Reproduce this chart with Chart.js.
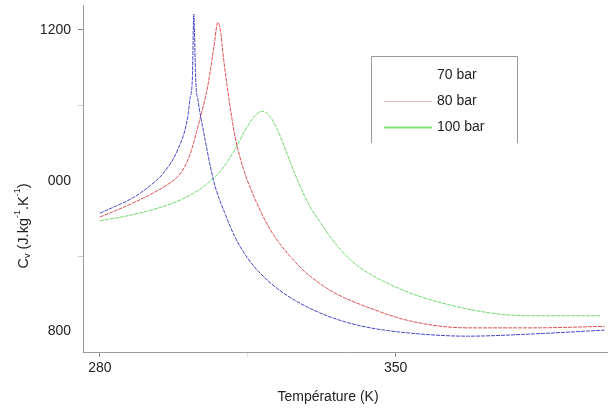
<!DOCTYPE html>
<html>
<head>
<meta charset="utf-8">
<script src="https://cdn.jsdelivr.net/npm/chart.js@4"></script>
<style>
  html, body { margin: 0; padding: 0; background: #fff; }
  #wrap { width: 611px; height: 411px; }
</style>
</head>
<body>
<div id="wrap"><canvas id="cvChart" width="611" height="411"></canvas></div>
<script>
// Cv en fonction de la température, 3 pressions
var seriesLabels = ['70 bar', '80 bar', '100 bar'];

var temp70 = [280, 284, 288, 292, 295, 298.4, 300.8, 301.3, 301.9, 302.2, 302.7, 303.2, 304.6, 307, 309.5, 312, 315, 318, 322, 326, 332, 338, 344, 353.5, 367, 382.6, 399.4];
var cv70   = [957, 967, 978, 994, 1010, 1041, 1085, 1108, 1138, 1221, 1130, 1107, 1063, 998, 958, 925, 897, 877, 857, 842, 825, 813, 805, 798, 794, 797, 802];

var temp80 = [280, 284, 288, 292, 296, 298.5, 300.3, 301.5, 303.5, 305.5, 307, 307.9, 308.5, 309.3, 310.5, 312, 314, 316, 318, 320, 322.5, 325, 328, 332, 336, 344, 353.5, 367, 382.6, 399.4];
var cv80   = [952, 961, 971, 982, 995, 1006, 1021, 1038, 1078, 1125, 1178, 1210, 1200, 1160, 1110, 1058, 1015, 985, 960, 938, 917, 900, 882, 864, 850, 831, 814, 805, 805, 807];

var temp100 = [280, 286, 292, 298, 302, 306, 309, 312, 315, 317, 318.5, 320, 322, 324, 326, 328, 330, 332, 335, 338, 341, 344, 347, 353.5, 359, 367, 375, 383, 398.4];
var cv100   = [947, 953, 961, 972, 983, 999, 1016, 1042, 1073, 1088, 1092, 1087, 1068, 1040, 1011, 985, 963, 946, 922, 902, 887, 876, 867, 851, 841, 830, 823, 821, 821];

var xTicks = [280, 315, 350];
var xTickLabels = ['280', '', '350'];
var yTicks = [800, 900, 1000, 1100, 1200];
var yTickLabels = ['800', '', '000', '', '1200'];

var lineColors = ['rgb(70,70,200)', 'rgb(222,80,80)', 'rgb(110,215,110)'];
var legendColors = ['rgba(255,255,255,0)', 'rgb(245,185,185)', 'rgb(120,225,120)'];

function toPoints(xs, ys) {
  return xs.map(function (x, i) { return { x: x, y: ys[i] }; });
}

var font = '"Liberation Sans", Arial, sans-serif';

// légende encadrée + titres des axes
var decorPlugin = {
  id: 'decor',
  afterDraw: function (chart) {
    var c = chart.ctx;
    c.save();
    // cadre de légende (ouvert en bas)
    c.strokeStyle = '#9a9a9a';
    c.lineWidth = 1;
    c.beginPath();
    c.moveTo(371.5, 143);
    c.lineTo(371.5, 56.5);
    c.lineTo(517.5, 56.5);
    c.lineTo(517.5, 143);
    c.stroke();
    c.font = '14px ' + font;
    c.textBaseline = 'middle';
    c.fillStyle = '#222';
    var rowY = [75, 101, 127];
    chart.data.datasets.forEach(function (ds, i) {
      c.strokeStyle = legendColors[i];
      c.lineWidth = i === 2 ? 2 : 1;
      c.beginPath();
      c.moveTo(384, rowY[i] + 0.5);
      c.lineTo(432, rowY[i] + 0.5);
      c.stroke();
      c.fillText(ds.label, 437, rowY[i]);
    });

    // titre axe X
    c.textAlign = 'center';
    c.fillText('Température (K)', 328, 397);

    // titre axe Y, avec indices / exposants
    c.translate(24, 226);
    c.rotate(-Math.PI / 2);
    var parts = [
      ['C', 0, 14.5], ['v', 4, 9], [' (J.kg', 0, 14.5], ['-1', -6, 9],
      ['.K', 0, 14.5], ['-1', -6, 9], [')', 0, 14.5]
    ];
    var total = 0;
    parts.forEach(function (p) { c.font = p[2] + 'px ' + font; total += c.measureText(p[0]).width; });
    var px = -total / 2;
    c.textAlign = 'left';
    parts.forEach(function (p) {
      c.font = p[2] + 'px ' + font;
      c.fillText(p[0], px, p[1]);
      px += c.measureText(p[0]).width;
    });
    c.restore();
  }
};

var ctx = document.getElementById('cvChart').getContext('2d');

var cvChart = new Chart(ctx, {
  type: 'line',
  data: {
    datasets: [
      { label: seriesLabels[0], data: toPoints(temp70, cv70) },
      { label: seriesLabels[1], data: toPoints(temp80, cv80) },
      { label: seriesLabels[2], data: toPoints(temp100, cv100) }
    ].map(function (ds, i) {
      ds.borderColor = lineColors[i];
      ds.backgroundColor = lineColors[i];
      ds.borderWidth = 1;
      ds.borderDash = [4, 1];
      ds.pointRadius = 0;
      ds.fill = false;
      ds.cubicInterpolationMode = 'monotone';
      return ds;
    })
  },
  options: {
    responsive: false,
    animation: false,
    layout: { padding: { top: 5, right: 4, left: 0, bottom: 0 } },
    plugins: {
      legend: { display: false },
      tooltip: { enabled: false }
    },
    scales: {
      x: {
        type: 'linear',
        min: 276,
        max: 400,
        afterBuildTicks: function (scale) {
          scale.ticks = xTicks.map(function (v) { return { value: v }; });
        },
        afterFit: function (scale) {
          scale.height = 59;
          scale.paddingLeft = 0;
          scale.paddingRight = 0;
        },
        ticks: {
          autoSkip: false,
          maxRotation: 0,
          padding: 3,
          color: '#222',
          font: { size: 14, family: font },
          callback: function (v) { return xTickLabels[xTicks.indexOf(v)]; }
        },
        grid: {
          drawOnChartArea: false,
          tickLength: 5,
          color: function (c) { return c.tick && c.tick.value === 315 ? '#dddddd' : '#888888'; }
        },
        border: { color: '#9a9a9a' }
      },
      y: {
        type: 'linear',
        min: 773,
        max: 1233,
        afterBuildTicks: function (scale) {
          scale.ticks = yTicks.map(function (v) { return { value: v }; });
        },
        afterFit: function (scale) {
          scale.width = 83;
          scale.paddingTop = 0;
          scale.paddingBottom = 0;
        },
        ticks: {
          autoSkip: false,
          padding: 7,
          color: '#222',
          font: { size: 14, family: font },
          callback: function (v) { return yTickLabels[yTicks.indexOf(v)]; }
        },
        grid: {
          drawOnChartArea: false,
          tickLength: 5,
          color: function (c) {
            if (!c.tick) return '#888888';
            if (c.tick.value === 1200) return '#888888';
            if (c.tick.value === 1100 || c.tick.value === 900) return '#cccccc';
            return 'rgba(0,0,0,0)';
          }
        },
        border: { color: '#9a9a9a' }
      }
    }
  },
  plugins: [decorPlugin]
});
</script>
</body>
</html>
